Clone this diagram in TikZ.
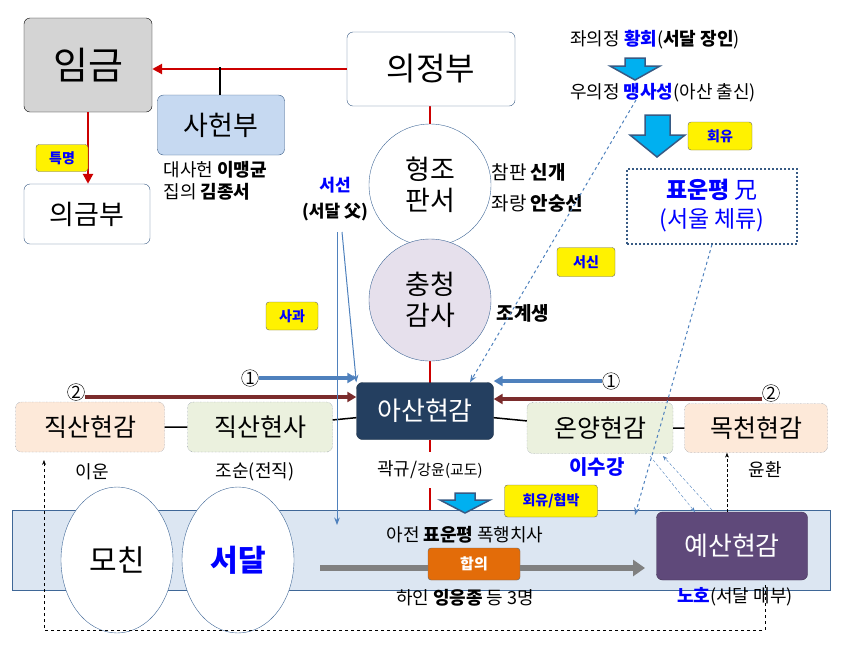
\documentclass[tikz,border=0pt]{standalone}
\usepackage{fontspec}
\setmainfont{Noto Sans CJK KR}
\usetikzlibrary{arrows.meta,shapes.geometric}
\definecolor{navy}{HTML}{243F60}
\definecolor{purp}{HTML}{5F497A}
\definecolor{peach}{HTML}{FDE9D9}
\definecolor{sage}{HTML}{EBF1DE}
\definecolor{lblue}{HTML}{C6D9F1}
\definecolor{band}{HTML}{DCE6F2}
\definecolor{lav}{HTML}{E6E0EC}
\definecolor{lnblue}{HTML}{4F81BD}
\definecolor{dred}{HTML}{7B2C2C}
\definecolor{cyanA}{HTML}{00B0F0}
\definecolor{kblue}{HTML}{0000FF}
\definecolor{orng}{HTML}{E36C09}
\definecolor{gbord}{HTML}{8DA0BC}
\tikzset{
 box/.style={draw=#1!70!black,rounded corners=6pt,minimum width=1pt,align=center,inner sep=0pt},
 yel/.style={draw=black!60,fill=yellow,rounded corners=3pt,font=\bfseries\fontsize{14}{14}\selectfont,text=kblue,inner sep=0pt},
 circ/.style={draw=lnblue!80!black,circle,minimum size=122pt,inner sep=0pt,align=center,font=\fontsize{27}{31}\selectfont},
 lbl/.style={font=\fontsize{18}{22}\selectfont,align=left},
 num/.style={draw,circle,inner sep=0.5pt,font=\fontsize{17}{17}\selectfont},
 barr/.style={draw=lnblue!70!black,fill=cyanA,line width=1.5pt},
}
\begin{document}
\begin{tikzpicture}[x=1pt,y=-1pt]
\useasboundingbox (0,0) rectangle (846,649);
% band
\node[draw=lnblue!80!black,fill=band,minimum width=818pt,minimum height=80pt,inner sep=0pt] (band) at (421,550) {};
% red lines
\draw[red!80!black,line width=2pt] (430,106) -- (430,383);
\draw[red!80!black,line width=2pt] (430,440) -- (430,452) (430,488) -- (430,510);
% nodes
\node[box=black,fill=black!17,minimum width=128pt,minimum height=94pt,font=\fontsize{38}{38}\selectfont] (king) at (88,65) {임금};
\node[box=lnblue,fill=white,minimum width=126pt,minimum height=60pt,font=\fontsize{27}{27}\selectfont] (ug) at (87,214) {의금부};
\node[box=lnblue,fill=white,minimum width=168pt,minimum height=74pt,font=\fontsize{32}{32}\selectfont] (uj) at (431,69) {의정부};
\node[box=lnblue,fill=lblue,minimum width=127pt,minimum height=60pt,font=\fontsize{27}{27}\selectfont] (sh) at (221,125) {사헌부};
\node[circ,fill=white] (hj) at (430,185) {형조\\판서};
\node[circ,fill=lav] (cc) at (430,300) {충청\\감사};
\node[box=navy,fill=navy,text=white,minimum width=137pt,minimum height=57pt,font=\fontsize{26}{26}\selectfont] (asan) at (425,411) {아산현감};
\node[box=gbord,densely dotted,fill=peach,minimum width=149pt,minimum height=50pt,font=\fontsize{25}{25}\selectfont] (js1) at (90,427) {직산현감};
\node[box=gbord,densely dotted,fill=sage,minimum width=145pt,minimum height=50pt,font=\fontsize{25}{25}\selectfont] (js2) at (260,427) {직산현사};
\node[box=gbord,densely dotted,fill=sage,minimum width=146pt,minimum height=51pt,font=\fontsize{25}{25}\selectfont] (oy) at (600,428) {온양현감};
\node[box=gbord,densely dotted,fill=peach,minimum width=143pt,minimum height=49pt,font=\fontsize{25}{25}\selectfont] (mc) at (756,428) {목천현감};
\node[box=purp,fill=purp,text=white,minimum width=151pt,minimum height=68pt,font=\fontsize{26}{26}\selectfont] (ys) at (732,546) {예산현감};
\node[draw=lnblue!80!black,ellipse,fill=white,minimum width=112pt,minimum height=146pt,font=\fontsize{30}{30}\selectfont] (mo) at (117,560) {모친};
\node[draw=lnblue!80!black,ellipse,fill=white,minimum width=112pt,minimum height=146pt,font=\bfseries\fontsize{30}{30}\selectfont,text=kblue] (sd) at (238,560) {서달};
\node[draw=lnblue!70!black,dotted,line width=2pt,minimum width=170pt,minimum height=75pt,inner sep=0pt,align=center,font=\fontsize{23}{29}\selectfont,text=kblue] (pyo) at (712,206) {\textbf{표운평} 兄\\(서울 체류)};
% connectors
\draw[red!80!black,line width=2.5pt,-{Triangle[length=10pt,width=10pt]}] (uj.west) -- (king.east|-uj.west);
\draw[black,line width=1.5pt] (220,67) -- (sh.north-|220,0);
\draw[red!80!black,line width=2.5pt,-{Triangle[length=10pt,width=10pt]}] (king.south) -- (ug.north-|king.south);
\draw[black,line width=1.5pt] (js1) -- (js2) (js2) -- (asan) (asan) -- (oy) (oy) -- (mc);
% labels
\node[yel,minimum width=52pt,minimum height=27pt] (tm) at (62,158) {특명};
\node[lbl,anchor=west] (dsh) at (160,181) {대사헌 \textbf{이맹균}\\집의 \textbf{김종서}};
\node[lbl,anchor=west,font=\fontsize{19}{31}\selectfont] (cp) at (488,188) {참판 \textbf{신개}\\좌랑 \textbf{안숭선}};
\node[lbl,anchor=west,font=\bfseries\fontsize{19}{19}\selectfont] (jg) at (493,313) {조계생};
\node[align=center,font=\bfseries\fontsize{17}{26}\selectfont] (ss) at (335,199) {\textcolor{kblue}{서선}\\(서달 父)};
\node[lbl,font=\fontsize{18}{18}\selectfont] (jwj) at (655,40) {좌의정 \textcolor{kblue}{\textbf{황회}}(\textbf{서달 장인})};
\node[lbl,font=\fontsize{18}{18}\selectfont] (wuj) at (663,93) {우의정 \textcolor{kblue}{\textbf{맹사성}}(아산 출신)};
\node[yel,minimum width=64pt,minimum height=28pt] (hy) at (720,136) {회유};
\node[yel,minimum width=58pt,minimum height=29pt] (sx) at (586,262) {서신};
\node[yel,minimum width=52pt,minimum height=28pt] (sg) at (292,316) {사과};
\node[yel,minimum width=93pt,minimum height=32pt] (hh) at (551,501) {회유/협박};
\node[draw=black!60,fill=orng,rounded corners=3pt,minimum width=92pt,minimum height=32pt,text=white,font=\bfseries\fontsize{15}{15}\selectfont] (hap) at (474,564) {합의};
% arrows block
\draw[barr] (625,58) -- (645,58) -- (645,66) -- (660,66) -- (635,80) -- (610,66) -- (625,66) -- cycle;
\draw[barr] (645,115) -- (670,115) -- (670,135) -- (685,135) -- (657,157) -- (630,135) -- (645,135) -- cycle;
\draw[barr] (455,493) -- (475,493) -- (475,500) -- (490,500) -- (465,513) -- (440,500) -- (455,500) -- cycle;
% small labels
\node[lbl] (iu) at (92,472) {이운};
\node[lbl] (js) at (255,472) {조순(전직)};
\node[lbl] (gk) at (430,470) {곽규/\fontsize{15}{15}\selectfont 강윤(교도)};
\node[font=\bfseries\fontsize{20}{20}\selectfont,text=kblue] (lsk) at (597,467) {이수강};
\node[lbl] (yh) at (765,470) {윤환};
\node[lbl] (aj) at (465,535) {아전 \textbf{표운평} 폭행치사};
\node[lbl] (hi) at (465,598) {하인 \textbf{잉응종} 등 3명};
\node[lbl] (nh) at (735,597) {\textcolor{kblue}{\textbf{노호}}(서달 매부)};
% numbered arrows
\node[num] (n1l) at (250,378) {1};
\node[num] (n2l) at (76,392) {2};
\node[num] (n1r) at (611,381) {1};
\node[num] (n2r) at (771,393) {2};
\draw[lnblue,line width=3.5pt,-{Triangle[length=9pt,width=10pt]}] (n1l.east) -- (asan.west|-n1l.east);
\draw[dred,line width=3.5pt,-{Triangle[length=9pt,width=10pt]}] (n2l.east|-0,397) -- (asan.west|-0,397);
\draw[lnblue,line width=3.5pt,-{Triangle[length=9pt,width=10pt]}] (n1r.west) -- (asan.east|-n1r.west);
\draw[dred,line width=3.5pt,-{Triangle[length=9pt,width=10pt]}] (n2r.west|-0,399) -- (asan.east|-0,399);
\draw[black!50,line width=6pt,-{Triangle[length=12pt,width=16pt]}] (320,568) -- (hap.west|-0,568) (hap.east|-0,568) -- (645,568);
% blue lines
\draw[lnblue,line width=1pt,-{Stealth}] (337,232) -- (337,525);
\draw[lnblue,line width=1pt,-{Stealth}] (342,232) -- (asan.north west);
\draw[lnblue,line width=1pt,dashed,-{Stealth}] (636,100) -- ([xshift=45pt]asan.north);
\draw[lnblue,line width=1pt,dashed,-{Stealth}] (pyo.south) -- (635,515);
\draw[lnblue,densely dashed,-{Stealth}] (650,456) -- (695,512);
\draw[lnblue,densely dashed,-{Stealth}] (712,510) -- (663,456);
% black dashed
\draw[densely dashed,-{Stealth}] (ys.north-|727,0) -- (mc.south-|727,0);
\draw[dashed,-{Stealth}] (765,585) -- (765,630) -- (44,630) -- (44,460);
\end{tikzpicture}
\end{document}
